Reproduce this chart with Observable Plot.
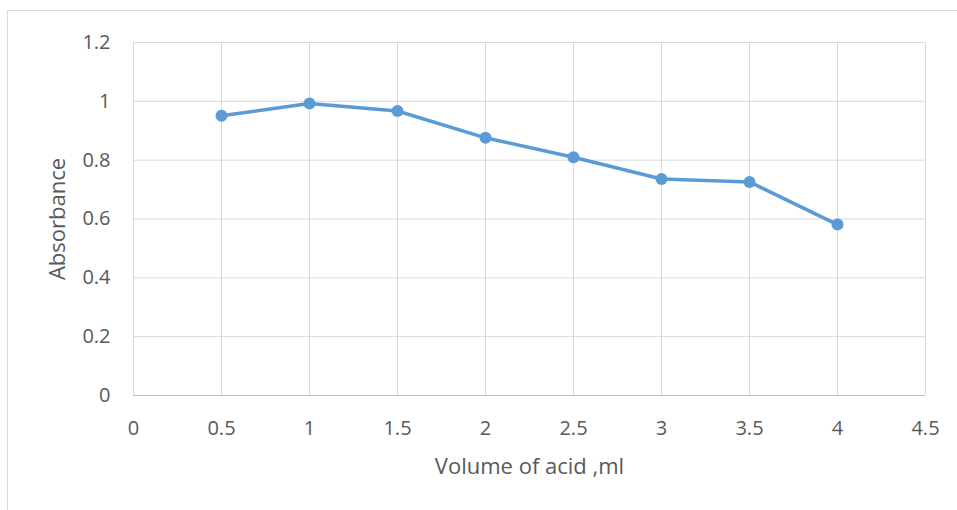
<!DOCTYPE html>
<html>
<head>
<meta charset="utf-8">
<script src="https://cdn.jsdelivr.net/npm/d3@7"></script>
<script src="https://cdn.jsdelivr.net/npm/@observablehq/plot@0.6"></script>
<style>
  html, body { margin: 0; padding: 0; background: #fff; overflow: hidden; }
  #wrap { position: relative; width: 957px; height: 510px; }
  #frame { position: absolute; left: 7px; top: 10px; width: 1000px; height: 600px;
           border-left: 1px solid #d9d9d9; border-top: 1px solid #d9d9d9; pointer-events: none; }
  #chart { position: absolute; left: 0; top: 0; }
</style>
</head>
<body>
<div id="wrap"><div id="frame"></div><div id="chart"></div></div>
<script>
const volume = [0.5, 1, 1.5, 2, 2.5, 3, 3.5, 4];
const absorbance = [0.951, 0.993, 0.967, 0.876, 0.810, 0.736, 0.726, 0.581];
const xTicks = [0, 0.5, 1, 1.5, 2, 2.5, 3, 3.5, 4, 4.5];
const yTicks = [0, 0.2, 0.4, 0.6, 0.8, 1, 1.2];
const xLabel = "Volume of acid ,ml";
const yLabel = "Absorbance";

const data = volume.map((v, i) => ({x: v, y: absorbance[i]}));
const grid = "#d9d9d9";
const blue = "#5b9bd5";
const textColor = "#595959";
const font = "'Open Sans', 'Liberation Sans', sans-serif";

const chart = Plot.plot({
  width: 957,
  height: 510,
  marginLeft: 133,
  marginRight: 32,
  marginTop: 42,
  marginBottom: 115,
  style: {fontFamily: font, fontSize: "20px", color: textColor, background: "transparent"},
  x: {domain: [0, 4.5]},
  y: {domain: [0, 1.2]},
  marks: [
    Plot.gridX(xTicks, {stroke: grid, strokeOpacity: 1, strokeWidth: 1}),
    Plot.gridY(yTicks, {stroke: grid, strokeOpacity: 1, strokeWidth: 1}),
    Plot.ruleY([0], {stroke: "#bfbfbf", strokeWidth: 1}),
    Plot.axisX({ticks: xTicks, tickFormat: d => String(d), tickSize: 0, tickPadding: 25, fontSize: 20, fill: textColor,
      label: xLabel, labelAnchor: "center", labelOffset: 78, labelArrow: "none"}),
    Plot.axisY({ticks: yTicks, tickFormat: d => String(d), tickSize: 0, tickPadding: 23, fontSize: 20, fill: textColor,
      label: yLabel, labelAnchor: "center", labelOffset: 84, labelArrow: "none"}),
    Plot.line(data, {x: "x", y: "y", stroke: blue, strokeWidth: 3.5}),
    Plot.dot(data, {x: "x", y: "y", fill: blue, r: 6, stroke: "none"})
  ]
});
document.getElementById("chart").appendChild(chart);
chart.querySelectorAll("text").forEach(t => { t.style.fontSize = "20px"; t.style.fontFamily = font; });
chart.querySelectorAll("g[aria-label='x-axis label'] text, g[aria-label='y-axis label'] text").forEach(t => { t.style.fontSize = "22px"; });
</script>
</body>
</html>
